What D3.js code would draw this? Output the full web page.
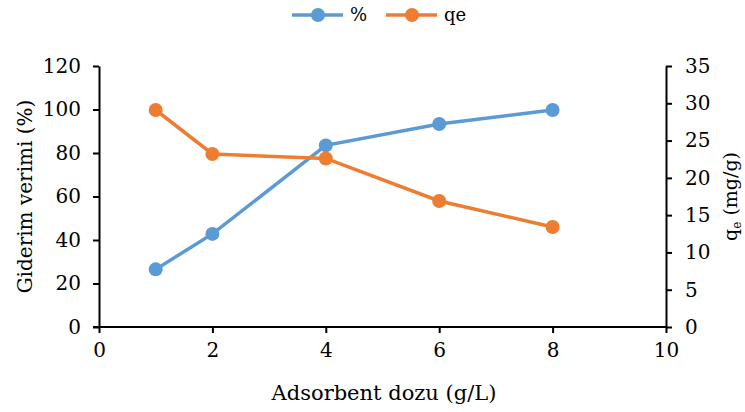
<!DOCTYPE html>
<html>
  <head>
    <meta charset="utf-8">
    <title>Adsorbent dozu</title>
    <script src="https://d3js.org/d3.v7.min.js"></script>
    <style>
      body { margin: 0; background: #fff; }
    </style>
  </head>
  <body>
    <svg id="chart" width="745" height="412"></svg>
    <script>
      // data
      doses = [1, 2, 4, 6, 8];
      removal = [26.5, 42.8, 83.5, 93.3, 99.8];
      qe = [29.1, 23.2, 22.6, 16.9, 13.4];
      xTicks = [0, 2, 4, 6, 8, 10];
      leftTicks = [0, 20, 40, 60, 80, 100, 120];
      rightTicks = [0, 5, 10, 15, 20, 25, 30, 35];

      blue = "#5b9bd5";
      orange = "#ed7d31";
      serif = "DejaVu Serif";

      svg = d3.select("#chart");
      margin = { top: 66, right: 79, bottom: 85, left: 99 };
      width = 745 - margin.left - margin.right;
      height = 412 - margin.top - margin.bottom;
      g = svg.append("g")
        .attr("transform", "translate(" + margin.left + "," + margin.top + ")");

      x = d3.scaleLinear().domain([0, 10]).range([0, width]);
      yL = d3.scaleLinear().domain([0, 120]).range([height, 0]);
      yR = d3.scaleLinear().domain([0, 35]).range([height, 0]);

      // axes
      xAxis = g.append("g")
        .attr("transform", "translate(0," + height + ")")
        .call(d3.axisBottom(x).tickValues(xTicks).tickSize(6).tickSizeOuter(0).tickPadding(10));
      leftAxis = g.append("g")
        .call(d3.axisLeft(yL).tickValues(leftTicks).tickSize(6).tickSizeOuter(0).tickPadding(12));
      rightAxis = g.append("g")
        .attr("transform", "translate(" + width + ",0)")
        .call(d3.axisRight(yR).tickValues(rightTicks).tickSize(6).tickSizeOuter(0).tickPadding(13));
      g.selectAll(".domain, .tick line").attr("stroke", "#000").attr("stroke-width", 2);
      g.selectAll(".tick text").style("font-size", "20px");
      xAxis.select(".domain").attr("d", "M-6,0H" + width);

      // series
      line = function(ys, scale) {
        return d3.line()
          .x(function(d, i) { return x(doses[i]); })
          .y(function(d) { return scale(d); })(ys);
      };
      series = [
        [removal, yL, blue],
        [qe, yR, orange]
      ];
      series.forEach(function(s) {
        g.append("path")
          .attr("d", line(s[0], s[1]))
          .attr("fill", "none")
          .attr("stroke", s[2])
          .attr("stroke-width", 3.5);
        g.selectAll(null)
          .data(s[0])
          .enter().append("circle")
            .attr("cx", function(d, i) { return x(doses[i]); })
            .attr("cy", function(d) { return s[1](d); })
            .attr("r", 7)
            .attr("fill", s[2]);
      });

      // axis titles
      svg.append("text")
        .attr("x", 384)
        .attr("y", 400)
        .attr("text-anchor", "middle")
        .style("font-size", "21px")
        .text("Adsorbent dozu (g/L)");
      svg.append("text")
        .attr("transform", "translate(32," + (margin.top + height / 2) + ") rotate(-90)")
        .attr("text-anchor", "middle")
        .style("font-size", "20px")
        .text("Giderim verimi (%)");
      rt = svg.append("text")
        .attr("transform", "translate(737," + (margin.top + height / 2) + ") rotate(-90)")
        .attr("text-anchor", "middle")
        .style("font-size", "19px");
      rt.append("tspan").text("q");
      rt.append("tspan").attr("dy", 4).style("font-size", "12px").text("e");
      rt.append("tspan").attr("dy", -4).text(" (mg/g)");

      // legend
      legendItems = [["%", blue, 292], ["qe", orange, 386]];
      legend = svg.selectAll(".legendItem")
        .data(legendItems)
        .enter().append("g")
          .attr("class", "legendItem")
          .attr("transform", function(d) { return "translate(" + d[2] + ",15)"; });
      legend.append("line")
        .attr("x1", 0).attr("x2", 51)
        .attr("stroke", function(d) { return d[1]; })
        .attr("stroke-width", 3.5);
      legend.append("circle")
        .attr("cx", 26).attr("r", 7)
        .attr("fill", function(d) { return d[1]; });
      legend.append("text")
        .attr("x", 58)
        .attr("y", 6)
        .style("font-size", "18px")
        .text(function(d) { return d[0]; });

      svg.selectAll("text").attr("font-family", null).style("font-family", serif).attr("fill", "#000");
    </script>
  </body>
</html>
